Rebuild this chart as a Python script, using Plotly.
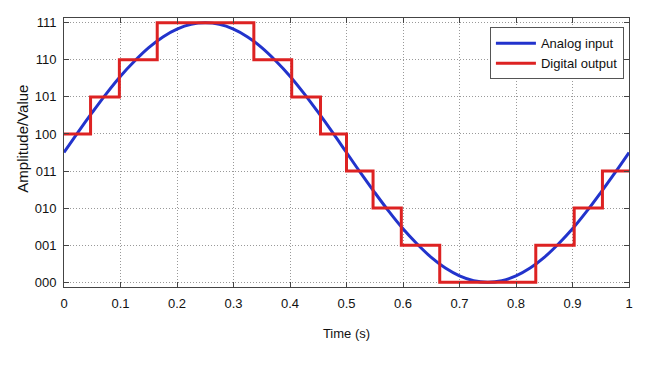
import plotly.graph_objects as go

# Analog input (every 0.025 s)
analog_t = [i * 0.025 for i in range(41)]
analog_v = [3.5, 4.05, 4.58, 5.09, 5.56, 5.97, 6.33, 6.62, 6.83, 6.96, 7.0,
            6.96, 6.83, 6.62, 6.33, 5.97, 5.56, 5.09, 4.58, 4.05, 3.5,
            2.95, 2.42, 1.91, 1.44, 1.03, 0.67, 0.38, 0.17, 0.04, 0.0,
            0.04, 0.17, 0.38, 0.67, 1.03, 1.44, 1.91, 2.42, 2.95, 3.5]

# Digital output: step edges and held levels
digital_edges = [0.0, 0.047, 0.098, 0.165, 0.336, 0.403, 0.454, 0.5,
                 0.547, 0.597, 0.665, 0.835, 0.903, 0.953, 1.0]
digital_levels = [4, 5, 6, 7, 6, 5, 4, 3, 2, 1, 0, 1, 2, 3]

y_tickvals = [0, 1, 2, 3, 4, 5, 6, 7]
y_ticktext = ["000", "001", "010", "011", "100", "101", "110", "111"]
x_tickvals = [0, 0.1, 0.2, 0.3, 0.4, 0.5, 0.6, 0.7, 0.8, 0.9, 1]
x_ticktext = ["0", "0.1", "0.2", "0.3", "0.4", "0.5", "0.6", "0.7", "0.8", "0.9", "1"]

dig_x = digital_edges[:]
dig_y = digital_levels + [digital_levels[-1]]

font_fam = "Liberation Sans, Arial, sans-serif"

fig = go.Figure()
fig.add_trace(go.Scatter(x=analog_t, y=analog_v, mode="lines", name="Analog input",
                         line=dict(color="#2233cc", width=3, shape="spline")))
fig.add_trace(go.Scatter(x=dig_x, y=dig_y, mode="lines", name="Digital output",
                         line=dict(color="#dd2222", width=3, shape="hv")))

axis_common = dict(showline=True, linecolor="#444", linewidth=1, mirror="ticks",
                   ticks="inside", ticklen=5, tickcolor="#444",
                   showgrid=True, gridcolor="#999", griddash="1px,2px", gridwidth=1,
                   zeroline=False, automargin=False,
                   tickfont=dict(size=13, color="#111", family=font_fam))

fig.update_xaxes(range=[0, 1], tickvals=x_tickvals, ticktext=x_ticktext, ticklabelstandoff=4,
                 title=dict(text="Time (s)", font=dict(size=13, color="#111", family=font_fam), standoff=19),
                 **axis_common)
fig.update_yaxes(range=[-0.13, 7.13], tickvals=y_tickvals, ticktext=y_ticktext, ticklabelstandoff=4,
                 **axis_common)

fig.add_annotation(text="Amplitude/Value", textangle=-90, showarrow=False,
                   xref="paper", yref="paper", x=-0.075, y=0.55,
                   xanchor="center", yanchor="middle",
                   font=dict(size=15, color="#111", family=font_fam))

fig.update_layout(
    width=640, height=364,
    margin=dict(l=56, r=19, t=10, b=85),
    paper_bgcolor="white", plot_bgcolor="white",
    font=dict(family=font_fam, size=13, color="#111"),
    legend=dict(x=0.991, y=0.965, xanchor="right", yanchor="top",
                bgcolor="white", bordercolor="#555", borderwidth=1,
                font=dict(size=13, family=font_fam, color="#111"),
                tracegroupgap=0, itemwidth=40),
    showlegend=True,
)

fig.write_html("out.html")
